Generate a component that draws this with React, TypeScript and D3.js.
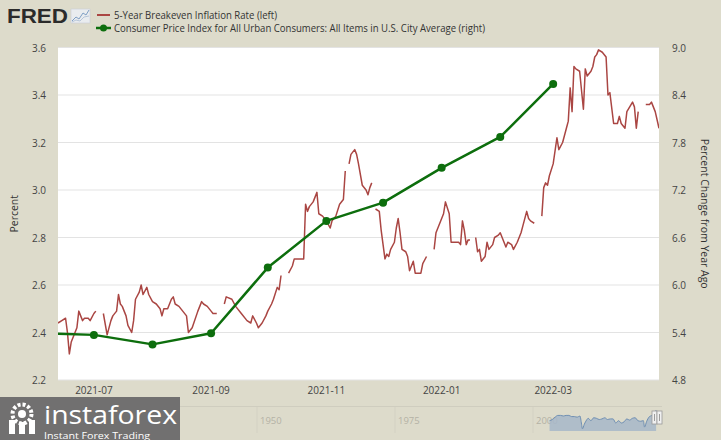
import React from "react";
import * as d3 from "d3";

const W = 721;
const H = 440;

// 5-Year Breakeven Inflation Rate (left axis), null = gap
const beDates = [
  "2021-06-12","2021-06-14","2021-06-16","2021-06-17","2021-06-18","2021-06-19","2021-06-21","2021-06-22","2021-06-23","2021-06-25","2021-06-26","2021-06-28","2021-06-29","2021-07-01","2021-07-02","2021-07-04",
  "2021-07-06","2021-07-08","2021-07-10","2021-07-11","2021-07-13","2021-07-14","2021-07-15","2021-07-16","2021-07-18","2021-07-19","2021-07-21","2021-07-22","2021-07-23","2021-07-25","2021-07-26","2021-07-27","2021-07-29","2021-07-30",
  "2021-08-01","2021-08-03","2021-08-05","2021-08-06","2021-08-07","2021-08-09","2021-08-11","2021-08-12","2021-08-13","2021-08-15","2021-08-17","2021-08-19","2021-08-20","2021-08-22","2021-08-25","2021-08-26","2021-08-27","2021-08-28","2021-08-30",
  "2021-09-01","2021-09-02","2021-09-04","2021-09-06","2021-09-08","2021-09-09","2021-09-12","2021-09-14","2021-09-17","2021-09-20","2021-09-22","2021-09-23","2021-09-25","2021-09-26","2021-09-28","2021-09-30",
  "2021-10-01","2021-10-03","2021-10-04","2021-10-06","2021-10-07","2021-10-08","2021-10-10","2021-10-12","2021-10-14","2021-10-15","2021-10-18","2021-10-20","2021-10-21","2021-10-22","2021-10-23","2021-10-25","2021-10-27","2021-10-28","2021-10-30",
  "2021-11-01","2021-11-03","2021-11-04","2021-11-06","2021-11-08","2021-11-10","2021-11-11","2021-11-12","2021-11-13","2021-11-14","2021-11-16","2021-11-17","2021-11-18","2021-11-20","2021-11-22","2021-11-23","2021-11-24","2021-11-25","2021-11-26","2021-11-27","2021-11-29","2021-11-30",
  "2021-12-02","2021-12-03","2021-12-04","2021-12-05","2021-12-07","2021-12-08","2021-12-09","2021-12-10","2021-12-11","2021-12-13","2021-12-14","2021-12-15","2021-12-16","2021-12-17","2021-12-18","2021-12-21","2021-12-22","2021-12-24","2021-12-26","2021-12-28","2021-12-29","2021-12-31",
  "2022-01-02","2022-01-03","2022-01-05","2022-01-06","2022-01-08","2022-01-10","2022-01-11","2022-01-12","2022-01-13","2022-01-14","2022-01-15","2022-01-16","2022-01-17","2022-01-19","2022-01-20","2022-01-21","2022-01-22","2022-01-24","2022-01-25","2022-01-26","2022-01-28","2022-01-29","2022-01-31",
  "2022-02-01","2022-02-02","2022-02-04","2022-02-05","2022-02-07","2022-02-08","2022-02-10","2022-02-12","2022-02-13","2022-02-15","2022-02-16","2022-02-17","2022-02-19","2022-02-21","2022-02-23","2022-02-24","2022-02-25","2022-02-26","2022-02-27",
  "2022-03-01","2022-03-03","2022-03-04","2022-03-06","2022-03-08","2022-03-09","2022-03-10","2022-03-11","2022-03-12","2022-03-13","2022-03-15","2022-03-17","2022-03-18","2022-03-19","2022-03-21","2022-03-22","2022-03-23","2022-03-24","2022-03-25","2022-03-27","2022-03-29","2022-03-30","2022-03-31",
  "2022-04-02","2022-04-04","2022-04-05","2022-04-06","2022-04-08","2022-04-09","2022-04-12","2022-04-13","2022-04-14","2022-04-15","2022-04-17","2022-04-19","2022-04-21","2022-04-22","2022-04-24","2022-04-26",
];
const beValues: (number | null)[] = [
  2.44,2.45,2.46,2.40,2.31,2.36,2.40,2.42,2.49,2.45,2.46,2.46,2.45,2.48,2.49,null,
  2.48,2.39,2.45,2.47,2.49,2.56,2.52,2.51,2.47,2.43,2.40,2.45,2.54,2.57,2.60,2.56,2.59,2.56,
  2.53,2.52,2.50,2.47,2.50,2.50,2.54,2.55,2.52,2.51,2.49,2.47,2.40,2.42,2.49,2.51,2.53,2.52,2.51,
  2.49,2.48,2.48,null,2.52,2.55,2.54,2.51,2.48,2.45,2.44,2.47,2.44,2.42,2.44,2.47,
  2.49,2.52,2.54,2.59,2.58,2.64,null,2.65,2.68,2.71,2.71,2.71,2.94,2.91,2.93,2.95,2.99,2.90,2.89,
  2.87,2.84,2.87,2.89,2.94,2.96,3.08,null,3.11,3.15,3.17,3.15,3.11,3.02,3.00,2.98,3.01,3.03,null,2.92,2.91,2.83,
  2.71,2.73,2.72,2.75,2.78,2.84,2.88,2.82,2.75,2.74,2.72,2.66,2.68,2.70,2.65,2.65,2.69,2.72,null,2.75,2.82,2.86,
  2.90,2.95,2.90,2.78,2.78,2.78,2.77,2.87,2.83,2.77,2.79,2.79,null,2.80,2.74,2.75,2.70,2.72,2.78,2.75,2.77,2.80,2.81,
  2.82,2.80,2.76,2.78,2.77,2.75,2.78,2.82,2.85,2.91,2.88,2.87,2.86,null,2.89,3.01,3.03,3.02,3.06,
  3.11,3.22,3.17,3.20,3.26,3.29,3.43,3.33,3.52,3.51,3.50,3.34,3.51,3.48,3.50,3.52,3.56,3.57,3.59,3.58,3.56,3.40,3.41,
  3.28,3.28,3.31,3.28,3.26,3.33,3.37,3.35,3.26,3.33,null,3.36,3.36,3.37,3.33,3.26,
];

// CPI, percent change from year ago (right axis)
const cpiDates = ["2021-06-01","2021-07-01","2021-08-01","2021-09-01","2021-10-01","2021-11-01","2021-12-01","2022-01-01","2022-02-01","2022-03-01"];
const cpiValues = [5.39, 5.37, 5.25, 5.39, 6.22, 6.81, 7.04, 7.48, 7.87, 8.54];

const leftTicks = [2.2, 2.4, 2.6, 2.8, 3.0, 3.2, 3.4, 3.6];
const rightTicks = [4.8, 5.4, 6.0, 6.6, 7.2, 7.8, 8.4, 9.0];
const xTickDates = ["2021-07-01", "2021-09-01", "2021-11-01", "2022-01-01", "2022-03-01"];
const xTickLabels = ["2021-07", "2021-09", "2021-11", "2022-01", "2022-03"];

// navigator (long history overview)
const navYears = [2003.0,2003.5,2004.0,2004.5,2005.0,2005.5,2006.0,2006.5,2007.0,2007.5,2008.0,2008.5,2008.8,2008.95,2009.3,2009.7,2010.0,2010.5,2011.0,2011.5,2012.0,2012.5,2013.0,2013.5,2014.0,2014.5,2015.0,2015.5,2016.0,2016.5,2017.0,2017.5,2018.0,2018.5,2019.0,2019.5,2020.0,2020.2,2020.6,2021.0,2021.5,2022.0,2022.3];
const navValues = [1.6,1.8,2.2,2.5,2.5,2.4,2.5,2.5,2.3,2.3,2.2,2.4,1.0,0.2,1.0,1.7,2.0,1.6,2.1,2.0,1.8,1.9,2.1,1.8,1.9,1.9,1.2,1.6,1.2,1.4,1.9,1.7,2.0,2.1,1.6,1.5,1.6,0.5,1.5,2.2,2.5,2.9,3.4];
const navLabels = ["1950", "1975", "2000"];
const navLabelYears = [1950, 1975, 2000];

const parse = d3.timeParse("%Y-%m-%d");

const PL = 58, PR = 659, PT = 47.5, PB = 380;
const RED = "#AA4643";
const GREEN = "#0d6e0d";
const BG = "#dddbcb";
const FONT = "'Open Sans', 'Liberation Sans', sans-serif";

export default function App() {
  const x = d3.scaleTime()
    .domain([parse("2021-06-12")!, parse("2022-04-26")!])
    .range([PL, PR]);
  const yL = d3.scaleLinear().domain([2.2, 3.6]).range([PB, PT]);
  const yR = d3.scaleLinear().domain([4.8, 9.0]).range([PB, PT]);

  const beData = beDates.map((d, i) => ({ d: parse(d)!, v: beValues[i] }));
  const cpiData = cpiDates.map((d, i) => ({ d: parse(d)!, v: cpiValues[i] }));

  const beLine = d3.line<{ d: Date; v: number | null }>()
    .defined((p) => p.v != null)
    .x((p) => x(p.d))
    .y((p) => yL(p.v as number));
  const cpiLine = d3.line<{ d: Date; v: number }>()
    .x((p) => x(p.d))
    .y((p) => yR(p.v));

  const [xd0, xd1] = x.domain();
  const visibleCpi = cpiData.filter((p) => p.d >= xd0 && p.d <= xd1);

  // navigator scales
  const nx = d3.scaleLinear().domain([1950, 2000]).range([257, 533]);
  const ny = d3.scaleLinear().domain([0, 3.6]).range([430, 409]);
  const navData = navYears.map((yv, i) => ({ t: yv, v: navValues[i] }));
  const navArea = d3.area<{ t: number; v: number }>()
    .x((p) => nx(p.t))
    .y0(431)
    .y1((p) => ny(p.v))
    .curve(d3.curveMonotoneX);
  const navLine = d3.line<{ t: number; v: number }>()
    .x((p) => nx(p.t))
    .y((p) => ny(p.v))
    .curve(d3.curveMonotoneX);

  return (
    <svg width={W} height={H} style={{ position: "absolute", left: 0, top: 0, display: "block" }}>
      <defs>
        <clipPath id="plotClip">
          <rect x={PL} y={PT} width={PR - PL} height={PB - PT} />
        </clipPath>
      </defs>
      <rect x={0} y={0} width={W} height={H} fill={BG} />

      {/* FRED logo */}
      <text x={7} y={23} fontFamily="'Liberation Sans', Arial, sans-serif" fontWeight="bold" fontSize={21}
        fill="#2b2b2b" textLength={61} lengthAdjust="spacingAndGlyphs">FRED</text>
      <g>
        <rect x={71} y={9} width={19} height={14} fill="#e9ecef" stroke="#c9ced6" strokeWidth={0.6} />
        <polyline points="72,21 76,17 79,19 83,13 86,15 89,10" fill="none" stroke="#7f9fc4" strokeWidth={1} />
        <polyline points="72,22 76,20 80,21 84,17 89,16" fill="none" stroke="#a9bbd2" strokeWidth={0.8} />
      </g>

      {/* Legend */}
      <line x1={97} x2={110} y1={15} y2={15} stroke={RED} strokeWidth={2} />
      <text x={114} y={19} fontFamily={FONT} fontSize={10.5} fill="#333" textLength={163} lengthAdjust="spacingAndGlyphs">
        5-Year Breakeven Inflation Rate (left)
      </text>
      <line x1={96} x2={111} y1={28} y2={28} stroke={GREEN} strokeWidth={2.5} />
      <circle cx={103.5} cy={28} r={3.5} fill={GREEN} />
      <text x={114} y={32} fontFamily={FONT} fontSize={10.5} fill="#333" textLength={371} lengthAdjust="spacingAndGlyphs">
        Consumer Price Index for All Urban Consumers: All Items in U.S. City Average (right)
      </text>

      {/* Plot area */}
      <rect x={PL} y={PT} width={PR - PL} height={PB - PT} fill="#ffffff" />
      {leftTicks.map((t) => (
        <line key={"g" + t} x1={PL} x2={PR} y1={yL(t)} y2={yL(t)} stroke="#e3e3e3" strokeWidth={1} />
      ))}

      {/* Left axis labels */}
      {leftTicks.map((t) => (
        <text key={"l" + t} x={46} y={yL(t) + 4} textAnchor="end" fontFamily={FONT} fontSize={10} fill="#444">
          {t.toFixed(1)}
        </text>
      ))}
      {/* Right axis labels */}
      {rightTicks.map((t) => (
        <text key={"r" + t} x={672} y={yR(t) + 4} textAnchor="start" fontFamily={FONT} fontSize={10} fill="#444">
          {t.toFixed(1)}
        </text>
      ))}
      {/* X labels */}
      {xTickDates.map((d, i) => (
        <text key={"x" + d} x={x(parse(d)!)} y={394} textAnchor="middle" fontFamily={FONT} fontSize={10} fill="#444">
          {xTickLabels[i]}
        </text>
      ))}

      {/* Axis titles */}
      <text transform={`translate(18,${(PT + PB) / 2}) rotate(-90)`} textAnchor="middle" fontFamily={FONT}
        fontSize={10.5} fill="#333">Percent</text>
      <text transform={`translate(701,${(PT + PB) / 2}) rotate(90)`} textAnchor="middle" fontFamily={FONT}
        fontSize={10.5} fill="#333">Percent Change from Year Ago</text>

      {/* Series */}
      <g clipPath="url(#plotClip)">
        <path d={beLine(beData) || ""} fill="none" stroke={RED} strokeWidth={1.5} strokeLinejoin="round" />
        <path d={cpiLine(cpiData) || ""} fill="none" stroke={GREEN} strokeWidth={2.5} strokeLinejoin="round" />
        {visibleCpi.map((p) => (
          <circle key={"c" + p.d.getTime()} cx={x(p.d)} cy={yR(p.v)} r={4} fill={GREEN} />
        ))}
      </g>

      {/* Navigator */}
      <line x1={180} x2={662} y1={406.5} y2={406.5} stroke="#cfcdbf" strokeWidth={1} />
      {navLabelYears.map((yv, i) => (
        <g key={"n" + yv}>
          <line x1={nx(yv)} x2={nx(yv)} y1={407} y2={433} stroke="#d3d1c3" strokeWidth={1} />
          <text x={nx(yv) + 3} y={424} fontFamily={FONT} fontSize={9.5} fill="#b4b2a6">{navLabels[i]}</text>
        </g>
      ))}
      <path d={navArea(navData) || ""} fill="#a7b7c9" opacity={0.85} />
      <path d={navLine(navData) || ""} fill="none" stroke="#6f8fb3" strokeWidth={1} />
      <g>
        <rect x={652} y={411} width={5} height={13} fill="#f0f0f0" stroke="#999" strokeWidth={0.8} />
        <rect x={657} y={411} width={5} height={13} fill="#f0f0f0" stroke="#999" strokeWidth={0.8} />
        <line x1={654.5} x2={654.5} y1={414} y2={421} stroke="#888" strokeWidth={0.8} />
        <line x1={659.5} x2={659.5} y1={414} y2={421} stroke="#888" strokeWidth={0.8} />
      </g>

      {/* Watermark */}
      <g>
        <rect x={0} y={397} width={180} height={43} fill="#6a6a6a" opacity={0.95} />
        <circle cx={22} cy={414} r={9.5} fill="none" stroke="#fff" strokeWidth={4} strokeDasharray="3 2" />
        <circle cx={22} cy={414} r={4} fill="#fff" />
        <rect x={9} y={420} width={6} height={14} fill="#fff" />
        <rect x={29} y={420} width={6} height={14} fill="#fff" />
        <rect x={19} y={422} width={6} height={12} fill="#fff" />
        <text x={44} y={424} fontFamily="'Open Sans', sans-serif" fontSize={25} fill="#ffffff"
          textLength={133} lengthAdjust="spacingAndGlyphs">instaforex</text>
        <text x={44} y={438.5} fontFamily="'Open Sans', sans-serif" fontSize={9.5} fill="#ffffff"
          textLength={106} lengthAdjust="spacingAndGlyphs">Instant Forex Trading</text>
      </g>
    </svg>
  );
}
